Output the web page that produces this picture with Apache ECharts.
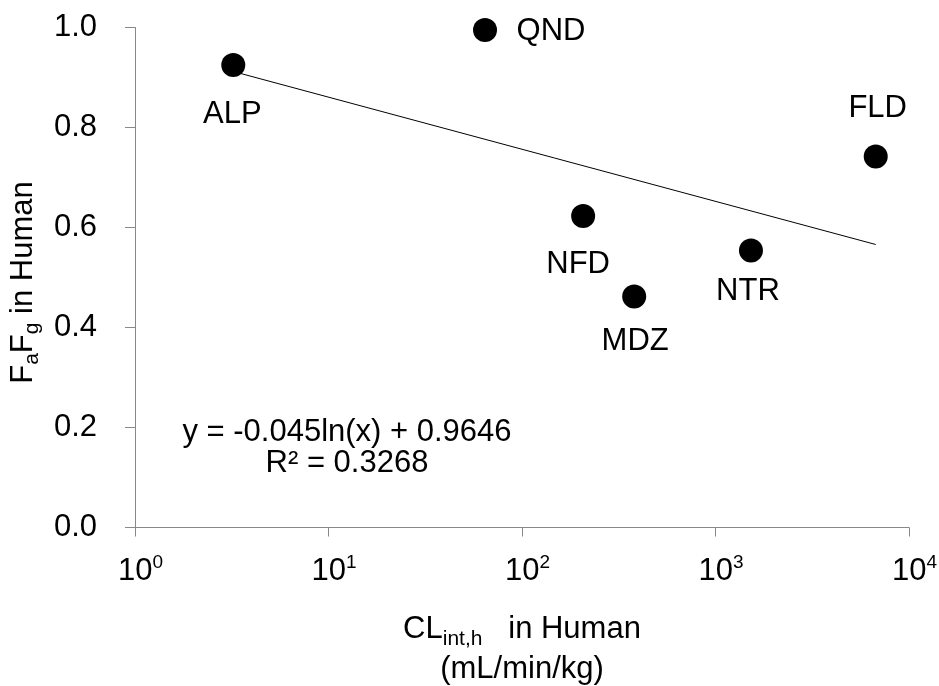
<!DOCTYPE html>
<html lang="en">
<head>
    <meta charset="UTF-8">
    <title>FaFg vs CLint,h</title>
    <style>
        html, body { margin: 0; padding: 0; background: #fff; }
        #main { width: 939px; height: 686px; }
    </style>
</head>
<body>
    <div id="main"></div>
    <script src="https://cdn.jsdelivr.net/npm/echarts@6/dist/echarts.min.js"></script>
    <script>
        // data
        var drugNames = ['ALP', 'QND', 'NFD', 'MDZ', 'NTR', 'FLD'];
        var clintValues = [3.22, 64.4, 207, 380, 1525, 6730];
        var fafgValues = [0.925, 0.995, 0.623, 0.462, 0.554, 0.742];
        // log trend line, end points at min / max x
        var trendX = [3.22, 6730];
        var trendY = [0.912, 0.566];
        var equationLines = ['y = -0.045ln(x) + 0.9646', 'R² = 0.3268'];

        // where each label sits relative to its dot (style only)
        var labelOffsets = {
            ALP: [-1, 49], QND: [66, 1], NFD: [-5, 48],
            MDZ: [1, 45], NTR: [-3, 41], FLD: [2, -48]
        };

        var FONT = 'Liberation Sans, Arial, sans-serif';

        var points = drugNames.map(function (n, i) {
            return {
                name: n,
                value: [clintValues[i], fafgValues[i]],
                label: { offset: labelOffsets[n] }
            };
        });
        var trend = trendX.map(function (x, i) { return [x, trendY[i]]; });

        var myChart = echarts.init(document.getElementById('main'));
        var option = {
            animation: false,
            textStyle: { fontFamily: FONT },
            grid: {
                left: 135, right: 30, top: 27.5, bottom: 158.5,
                containLabel: false,
                outerBoundsMode: 'none'
            },
            xAxis: {
                type: 'log',
                logBase: 10,
                min: 1,
                max: 10000,
                splitLine: { show: false },
                axisLine: { lineStyle: { color: '#888', width: 1 } },
                axisTick: { show: true, length: 9, lineStyle: { color: '#888' } },
                minorTick: { show: false },
                axisLabel: {
                    margin: 26,
                    padding: [0, 0, 0, 11],
                    color: '#000',
                    fontSize: 31,
                    fontFamily: FONT,
                    formatter: function (v) {
                        return '10{sup|' + Math.round(Math.log10(v)) + '}';
                    },
                    rich: {
                        sup: { fontSize: 19, fontFamily: FONT, color: '#000', verticalAlign: 'top', lineHeight: 26 }
                    },
                    lineHeight: 36
                },
                name: 'CL{sub|int,h}   in Human\n(mL/min/kg)',
                nameLocation: 'middle',
                nameGap: 82,
                nameTextStyle: {
                    fontSize: 31,
                    fontFamily: FONT,
                    color: '#000',
                    lineHeight: 40,
                    rich: {
                        sub: { fontSize: 21, fontFamily: FONT, color: '#000', verticalAlign: 'bottom', lineHeight: 22 }
                    }
                }
            },
            yAxis: {
                type: 'value',
                min: 0,
                max: 1,
                interval: 0.2,
                splitLine: { show: false },
                axisLine: { show: true, lineStyle: { color: '#888', width: 1 } },
                axisTick: { show: true, length: 10, lineStyle: { color: '#888' } },
                axisLabel: {
                    margin: 38,
                    color: '#000',
                    fontSize: 31,
                    fontFamily: FONT,
                    formatter: function (v) { return v.toFixed(1); }
                },
                name: 'F{sub|a}F{sub|g} in Human',
                nameLocation: 'middle',
                nameGap: 88,
                nameTextStyle: {
                    fontSize: 31,
                    fontFamily: FONT,
                    color: '#000',
                    lineHeight: 40,
                    padding: [0, 10, 0, 0],
                    rich: {
                        sub: { fontSize: 21, fontFamily: FONT, color: '#000', verticalAlign: 'bottom', lineHeight: 22 }
                    }
                }
            },
            graphic: [{
                type: 'text',
                x: 347,
                y: 447.5,
                style: {
                    text: equationLines.join('\n'),
                    fontSize: 31,
                    fontFamily: FONT,
                    fill: '#000',
                    lineHeight: 31,
                    align: 'center',
                    verticalAlign: 'middle'
                }
            }],
            series: [
                {
                    type: 'line',
                    data: trend,
                    symbol: 'none',
                    lineStyle: { color: '#000', width: 1 },
                    z: 1,
                    silent: true
                },
                {
                    type: 'scatter',
                    data: points,
                    symbol: 'circle',
                    symbolSize: 24,
                    itemStyle: { color: '#000', opacity: 1 },
                    z: 3,
                    label: {
                        show: true,
                        position: 'inside',
                        formatter: '{b}',
                        color: '#000',
                        fontSize: 31,
                        fontFamily: FONT
                    }
                }
            ]
        };
        myChart.setOption(option);
    </script>
</body>
</html>
